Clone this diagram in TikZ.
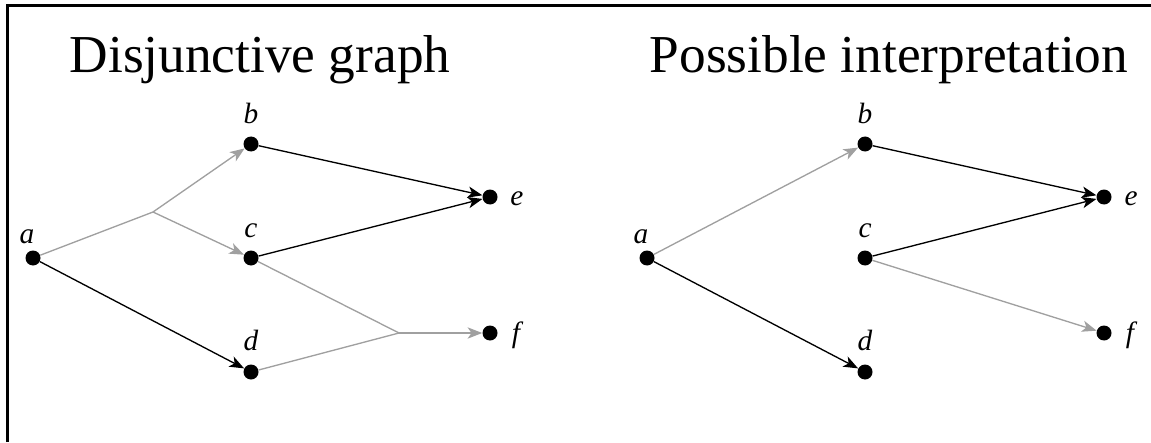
\documentclass[tikz,border=0pt]{standalone}
\usepackage{fontspec}
\setmainfont{Liberation Serif}
\newfontfamily\serifT{Liberation Serif}
\usetikzlibrary{arrows.meta}
\definecolor{lgray}{RGB}{160,160,160}
\tikzset{
  dot/.style={circle,fill=black,inner sep=0pt,minimum size=11.25pt},
  lbl/.style={anchor=base,inner sep=0pt},
  ttl/.style={anchor=base,inner sep=0pt},
  blk/.style={draw=black,line width=1pt},
  gry/.style={draw=lgray,line width=1pt},
  arr/.style={-{Stealth[length=11pt,width=8.5pt,inset=3pt]}},
  frame/.style={line width=2.25pt,line join=miter}}
\newcommand{\ttxt}[1]{{\serifT\fontsize{40}{40}\selectfont #1}}
\newcommand{\ltxt}[1]{{\serifT\itshape\fontsize{22}{22}\selectfont #1}}
\begin{document}
\begin{tikzpicture}[x=0.75pt,y=-0.75pt]
\useasboundingbox (0,0) rectangle (1151,442);
\draw[frame] (7,442) -- (7,5.5) -- (1151,5.5);

% ---------- left: disjunctive graph ----------
\node[ttl] (t1) at (260,73) {\ttxt{Disjunctive graph}};
\node[dot] (a) at (33,258) {};
\node[dot] (b) at (251,144) {};
\node[dot] (c) at (251,258) {};
\node[dot] (d) at (251,372) {};
\node[dot] (e) at (490,197) {};
\node[dot] (f) at (490,333) {};
\coordinate (j1) at (153,212);
\coordinate (j2) at (399,333);
\node[lbl] (la) at (27,243) {\ltxt{a}};
\node[lbl] (lb) at (251,123) {\ltxt{b}};
\node[lbl] (lc) at (251,237) {\ltxt{c}};
\node[lbl] (ld) at (251,350) {\ltxt{d}};
\node[lbl] (le) at (517,205) {\ltxt{e}};
\node[lbl] (lf) at (516,342) {\ltxt{f}};
\draw[gry] (a) -- (j1);
\draw[gry,arr] (j1) -- (b);
\draw[gry,arr] (j1) -- (c);
\draw[gry] (c) -- (j2);
\draw[gry] (d) -- (j2);
\draw[gry,arr] (j2) -- (f);
\draw[blk,arr] (a) -- (d);
\draw[blk,arr] (b) -- (e);
\draw[blk,arr] (c) -- (e);

% ---------- right: possible interpretation ----------
\node[ttl] (t2) at (889,73) {\ttxt{Possible interpretation}};
\node[dot] (ra) at (647,258) {};
\node[dot] (rb) at (865,144) {};
\node[dot] (rc) at (865,258) {};
\node[dot] (rd) at (865,372) {};
\node[dot] (re) at (1104,197) {};
\node[dot] (rf) at (1104,333) {};
\node[lbl] (rla) at (641,243) {\ltxt{a}};
\node[lbl] (rlb) at (865,123) {\ltxt{b}};
\node[lbl] (rlc) at (865,237) {\ltxt{c}};
\node[lbl] (rld) at (865,350) {\ltxt{d}};
\node[lbl] (rle) at (1131,205) {\ltxt{e}};
\node[lbl] (rlf) at (1130,342) {\ltxt{f}};
\draw[gry,arr] (ra) -- (rb);
\draw[blk,arr] (ra) -- (rd);
\draw[blk,arr] (rb) -- (re);
\draw[blk,arr] (rc) -- (re);
\draw[gry,arr] (rc) -- (rf);
\end{tikzpicture}
\end{document}
